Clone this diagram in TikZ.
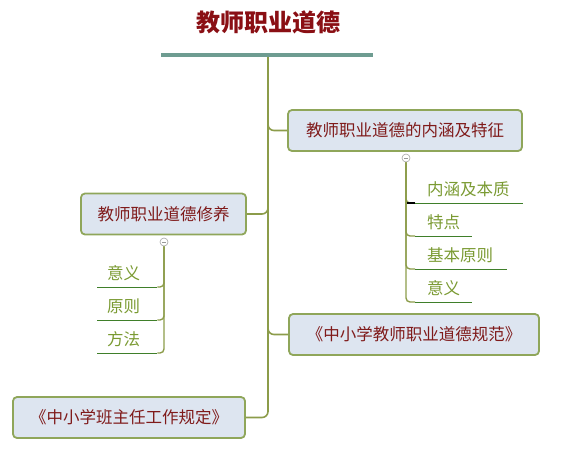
\documentclass[tikz,border=0pt]{standalone}
\usepackage{fontspec}
\setmainfont{Noto Sans CJK SC}
\definecolor{titlered}{HTML}{8A0F14}
\definecolor{barcol}{HTML}{6E9C91}
\definecolor{boxfill}{HTML}{DDE5F0}
\definecolor{boxdraw}{HTML}{8FA65A}
\definecolor{boxtext}{HTML}{7F1A1A}
\definecolor{linecol}{HTML}{8C9C4A}
\definecolor{childtext}{HTML}{7A9A32}
\definecolor{ulcol}{HTML}{3F7F2A}
\begin{document}
\begin{tikzpicture}[x=1pt,y=-1pt,
  topic/.style={draw=boxdraw, fill=boxfill, line width=1.8pt, rounded corners=4pt,
    minimum height=41pt, inner xsep=0pt, text=boxtext, font=\fontsize{16.5}{19}\selectfont},
  kid/.style={anchor=south west, inner xsep=0pt, inner ysep=0pt, minimum height=28pt,
    align=left, text=childtext, font=\fontsize{16.5}{19}\selectfont},
  conn/.style={draw=linecol, line width=1.6pt, rounded corners=6pt},
  uline/.style={draw=ulcol, line width=1pt},
  toggle/.style={circle, draw=gray!70, fill=white, line width=0.6pt, minimum size=8pt, inner sep=0pt,
    path picture={\draw[gray!80, line width=0.6pt] ([xshift=-2pt]path picture bounding box.center) -- ([xshift=2pt]path picture bounding box.center);}}
]
\useasboundingbox (0,0) rectangle (561,450);

% title and bar
\node[text=titlered, font=\fontsize{24}{28}\selectfont\bfseries] (title) at (268,22) {教师职业道德};
\coordinate (barL) at (161,55);
\coordinate (barR) at (373,55);
\draw[barcol, line width=4pt] (barL) -- (barR);

% main topics
\node[topic, minimum width=234pt] (n1) at (405,130.5) {教师职业道德的内涵及特征};
\node[topic, minimum width=165pt] (n2) at (163.5,214) {教师职业道德修养};
\node[topic, minimum width=250pt] (n3) at (414,334.5) {《中小学教师职业道德规范》};
\node[topic, minimum width=232pt] (n4) at (129,417.5) {《中小学班主任工作规定》};

% trunk and branches
\coordinate (t0) at (268,57);
\coordinate (b1) at (268,112);
\coordinate (b2) at (268,195);
\coordinate (b3) at (268,315);
\draw[conn] (t0) |- (n4.east);
\draw[conn] (b1) |- (n1.west);
\draw[conn] (n2.east) -| (b2);
\draw[conn] (b3) |- (n3.west);

% children of n1
\node[toggle] (c1) at (406,158) {};
\node[kid, text width=108pt] (k1) at (415,203) {\hspace*{12pt}内涵及本质};
\node[kid, text width=57pt] (k2) at (415,236) {\hspace*{12pt}特点};
\node[kid, text width=92pt] (k3) at (415,269) {\hspace*{12pt}基本原则};
\node[kid, text width=57pt] (k4) at (415,302) {\hspace*{12pt}意义};
\foreach \k in {k1,k2,k3,k4}{
  \draw[conn, line width=1.4pt, rounded corners=4pt] (c1.south) |- (\k.south west);
  \draw[uline] (\k.south west) -- (\k.south east);
}
\draw[black, line width=1.4pt] ([xshift=-8pt]k1.south west) -- (k1.south west);

% children of n2
\node[toggle] (c2) at (164,242) {};
\node[kid, text width=60pt] (m1) at (97,287) {\hspace*{10pt}意义};
\node[kid, text width=60pt] (m2) at (97,320) {\hspace*{10pt}原则};
\node[kid, text width=60pt] (m3) at (97,353) {\hspace*{10pt}方法};
\foreach \m in {m1,m2,m3}{
  \draw[conn, line width=1.4pt, rounded corners=4pt] (c2.south) |- (\m.south east);
  \draw[uline] (\m.south west) -- (\m.south east);
}
\end{tikzpicture}
\end{document}
